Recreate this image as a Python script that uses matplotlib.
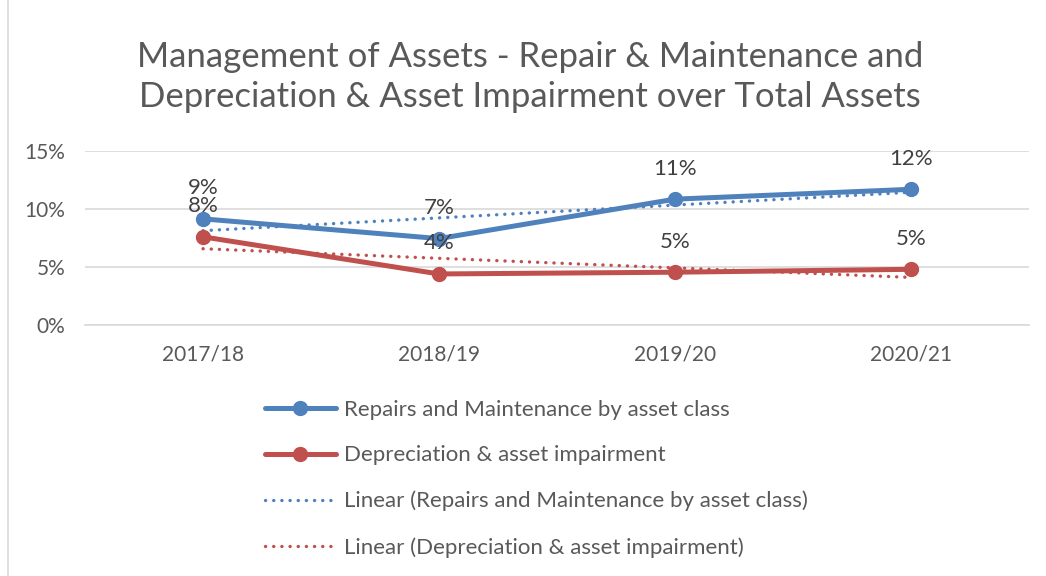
import numpy as np
import matplotlib
matplotlib.use("Agg")
import matplotlib.pyplot as plt
from matplotlib.patches import Rectangle

plt.rcParams["font.family"] = ["Lato", "DejaVu Sans"]

years = ["2017/18", "2018/19", "2019/20", "2020/21"]
repairs = [9.15, 7.45, 10.85, 11.7]
deprec = [7.6, 4.4, 4.55, 4.8]

BLUE = "#4F81BD"
RED = "#C0504D"
TEXT = "#595959"

fig = plt.figure(figsize=(10.46, 5.76), dpi=100)
ax = fig.add_axes([0.0813, 0.4358, 0.9024, 0.302])

x = np.arange(len(years))

ax.plot(x, repairs, color=BLUE, lw=3.6, marker="o", ms=10,
        solid_capstyle="round", label="Repairs and Maintenance by asset class", zorder=4)
ax.plot(x, deprec, color=RED, lw=3.6, marker="o", ms=10,
        solid_capstyle="round", label="Depreciation & asset impairment", zorder=4)

# linear trendlines (least squares, as Excel does)
for ys, col, name in [(repairs, BLUE, "Repairs and Maintenance by asset class"),
                      (deprec, RED, "Depreciation & asset impairment")]:
    k, b = np.polyfit(x, ys, 1)
    ax.plot(x, k * x + b, color=col, lw=2.4, ls=(0, (0.05, 2.4)),
            dash_capstyle="round", label=f"Linear ({name})", zorder=3)

for ys in (repairs, deprec):
    for xi, v in zip(x, ys):
        ax.annotate(f"{v:.0f}%", (xi, v), xytext=(0, 22), textcoords="offset points",
                    ha="center", va="center", fontsize=16, color="#404040", zorder=5)

ax.set_xlim(-0.5, 3.5)
ax.set_ylim(0, 15)
ax.set_yticks([0, 5, 10, 15])
ax.set_yticklabels([f"{t}%" for t in [0, 5, 10, 15]])
ax.set_xticks(x)
ax.set_xticklabels(years)
ax.tick_params(axis="both", length=0, labelsize=15, colors=TEXT)
ax.tick_params(axis="x", pad=14)
ax.tick_params(axis="y", pad=14)
ax.grid(axis="y", color="#D9D9D9", lw=1.2)
ax.set_axisbelow(True)
for s in ["top", "right", "left"]:
    ax.spines[s].set_visible(False)
ax.spines["bottom"].set_color("#D9D9D9")
ax.spines["bottom"].set_linewidth(1.2)

fig.text(0.507, 0.866, "Management of Assets - Repair & Maintenance and\n"
         "Depreciation & Asset Impairment over Total Assets",
         ha="center", va="center", fontsize=25, color=TEXT, linespacing=1.3)

handles, labels = ax.get_legend_handles_labels()
leg = fig.legend(handles, labels, loc="upper left", bbox_to_anchor=(0.253, 0.306),
                 frameon=False, fontsize=16, handlelength=3.2, labelspacing=1.15,
                 handletextpad=0.35, borderaxespad=0, borderpad=0)
for t in leg.get_texts():
    t.set_color(TEXT)

fig.patches.append(Rectangle((0.008, -0.01), 0.995, 1.02, transform=fig.transFigure,
                             fill=False, edgecolor="#D9D9D9", lw=1.2))

fig.savefig("out.png", dpi=100)
